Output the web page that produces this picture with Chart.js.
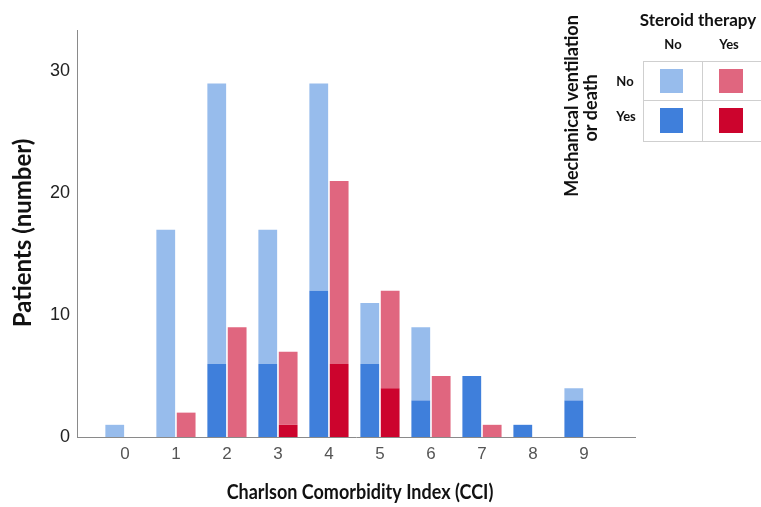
<!DOCTYPE html>
<html>
<head>
<meta charset="utf-8">
<script src="https://cdn.jsdelivr.net/npm/chart.js@4.4.1/dist/chart.umd.min.js"></script>
<style>
  html, body { margin: 0; padding: 0; background: #ffffff; }
  #wrap { width: 761px; height: 507px; }
</style>
</head>
<body>
<div id="wrap"><canvas id="c" width="761" height="507"></canvas></div>
<script>
// ---- Data ----
const cci = [0, 1, 2, 3, 4, 5, 6, 7, 8, 9];
const yTicks = [0, 10, 20, 30];
// Steroid therapy = No
const noSteroidVentYes = [0, 0, 6, 6, 12, 6, 3, 5, 1, 3];   // dark blue
const noSteroidVentNo  = [1, 17, 23, 11, 17, 5, 6, 0, 0, 1]; // light blue
// Steroid therapy = Yes
const steroidVentYes   = [0, 0, 0, 1, 6, 4, 0, 0, 0, 0];     // dark red
const steroidVentNo    = [0, 2, 9, 6, 15, 8, 5, 1, 0, 0];    // pink

const xTitle = 'Charlson Comorbidity Index (CCI)';
const yTitle = 'Patients (number)';
const legendTitle = 'Steroid therapy';
const legendSideTitle = ['Mechanical ventilation', 'or death'];
const legendCols = ['No', 'Yes'];
const legendRows = ['No', 'Yes'];

const COLORS = {
  lightBlue: '#97bcec',
  darkBlue: '#3f7fdb',
  pink: '#e0667f',
  darkRed: '#cc042d'
};

const pts = arr => cci.map((c, i) => ({ x: c, y: arr[i] }));

const legendPlugin = {
  id: 'customTexts',
  afterDraw(chart) {
    const ctx = chart.ctx;
    ctx.save();
    // axis titles
    ctx.fillStyle = '#111';
    ctx.textAlign = 'center';
    ctx.textBaseline = 'middle';
    ctx.save();
    ctx.font = 'bold 18px Lato';
    ctx.translate(360, 492);
    ctx.scale(1, 1.18);
    ctx.fillText(xTitle, 0, 0);
    ctx.restore();
    ctx.save();
    ctx.font = 'bold 24px Lato';
    ctx.translate(23, 233);
    ctx.rotate(-Math.PI / 2);
    ctx.fillText(yTitle, 0, 0);
    ctx.restore();

    // legend title
    ctx.font = 'bold 17px Lato';
    ctx.fillText(legendTitle, 698, 21);
    ctx.font = 'bold 18px Lato';
    ctx.save();
    ctx.translate(572, 106);
    ctx.rotate(-Math.PI / 2);
    ctx.fillText(legendSideTitle[0], 0, 0);
    ctx.restore();
    ctx.save();
    ctx.translate(591, 108);
    ctx.rotate(-Math.PI / 2);
    ctx.fillText(legendSideTitle[1], 0, 0);
    ctx.restore();

    ctx.font = 'bold 13px Lato';
    ctx.fillText(legendCols[0], 673, 45);
    ctx.fillText(legendCols[1], 729, 45);
    ctx.fillText(legendRows[0], 625, 82);
    ctx.fillText(legendRows[1], 626, 117);

    // grid
    ctx.strokeStyle = '#cfcfcf';
    ctx.lineWidth = 1;
    ctx.beginPath();
    ctx.moveTo(643, 61.5); ctx.lineTo(761, 61.5);
    ctx.moveTo(643, 100.5); ctx.lineTo(761, 100.5);
    ctx.moveTo(643, 141.5); ctx.lineTo(761, 141.5);
    ctx.moveTo(643.5, 61); ctx.lineTo(643.5, 142);
    ctx.moveTo(702.5, 61); ctx.lineTo(702.5, 142);
    ctx.stroke();

    // swatches
    ctx.fillStyle = COLORS.lightBlue; ctx.fillRect(660, 69, 23, 24);
    ctx.fillStyle = COLORS.pink;      ctx.fillRect(719, 69, 24, 24);
    ctx.fillStyle = COLORS.darkBlue;  ctx.fillRect(660, 108, 23, 25);
    ctx.fillStyle = COLORS.darkRed;   ctx.fillRect(719, 108, 24, 25);
    ctx.restore();
  }
};

new Chart(document.getElementById('c'), {
  type: 'bar',
  data: {
    datasets: [
      { label: 'No steroid / ventilation yes', data: pts(noSteroidVentYes), backgroundColor: COLORS.darkBlue, stack: 'no' },
      { label: 'No steroid / ventilation no', data: pts(noSteroidVentNo), backgroundColor: COLORS.lightBlue, stack: 'no' },
      { label: 'Steroid / ventilation yes', data: pts(steroidVentYes), backgroundColor: COLORS.darkRed, stack: 'yes' },
      { label: 'Steroid / ventilation no', data: pts(steroidVentNo), backgroundColor: COLORS.pink, stack: 'yes' }
    ]
  },
  options: {
    responsive: false,
    animation: false,
    devicePixelRatio: 1,
    categoryPercentage: 0.8,
    barPercentage: 0.92,
    borderWidth: 0,
    layout: { padding: { left: 0, right: 126, top: 30, bottom: 0 } },
    plugins: { legend: { display: false }, tooltip: { enabled: false } },
    scales: {
      x: {
        type: 'linear',
        offset: false,
        min: -0.94,
        max: 10,
        grid: { display: false, drawTicks: false, offset: false },
        border: { display: true, color: '#8a8a8a', width: 1 },
        afterBuildTicks: s => { s.ticks = cci.map(v => ({ value: v })); },
        afterFit: s => { s.height = 70; },
        ticks: {
          autoSkip: false,
          padding: 7,
          color: '#555',
          font: { family: 'Liberation Sans', size: 17 },
          callback: v => String(v)
        }
      },
      y: {
        stacked: true,
        min: 0,
        max: 33.4,
        grid: { display: false, drawTicks: false },
        border: { display: true, color: '#8a8a8a', width: 1 },
        afterBuildTicks: s => { s.ticks = yTicks.map(v => ({ value: v })); },
        afterFit: s => { s.width = 77; },
        ticks: {
          padding: 7,
          color: '#222',
          font: { family: 'Liberation Sans', size: 18 }
        }
      }
    }
  },
  plugins: [legendPlugin]
});
</script>
</body>
</html>
